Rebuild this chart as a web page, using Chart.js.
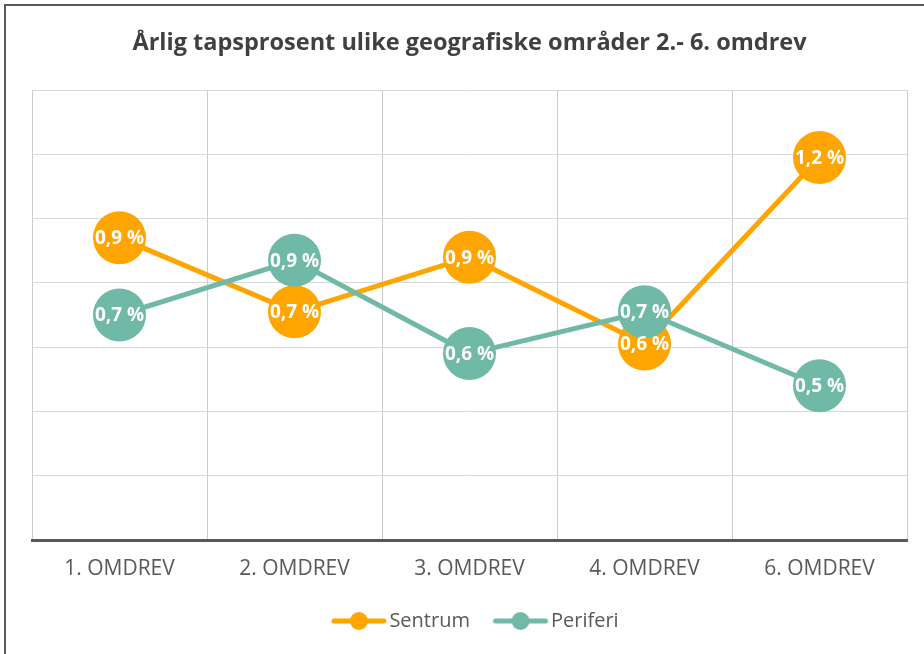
<!DOCTYPE html>
<html>
<head>
<meta charset="utf-8">
<script src="https://cdn.jsdelivr.net/npm/chart.js@4.4.0/dist/chart.umd.min.js"></script>
<style>
  html, body { margin: 0; padding: 0; background: #fff; }
  canvas { display: block; }
</style>
</head>
<body>
<canvas id="chart" width="924" height="654"></canvas>
<script>
const categories = ["1. OMDREV", "2. OMDREV", "3. OMDREV", "4. OMDREV", "6. OMDREV"];
const sentrum = [0.94, 0.71, 0.88, 0.61, 1.19];
const periferi = [0.70, 0.87, 0.58, 0.71, 0.48];

const ORANGE = "#FFA502";
const TEAL = "#70B9A6";
const FONT = "'Open Sans', sans-serif";

// legend marker: line with a dot, drawn off-centre in a wider canvas
function legendMarker(color) {
  const c = document.createElement("canvas");
  c.width = 120; c.height = 24;
  const g = c.getContext("2d");
  g.strokeStyle = color;
  g.lineWidth = 5;
  g.lineCap = "round";
  g.beginPath(); g.moveTo(44, 12); g.lineTo(94, 12); g.stroke();
  g.fillStyle = color;
  g.beginPath(); g.arc(69, 12, 9, 0, Math.PI * 2); g.fill();
  return c;
}
const markers = [legendMarker(ORANGE), legendMarker(TEAL)];

// white value labels inside the dots
const valueLabels = {
  id: "valueLabels",
  afterDatasetsDraw(chart) {
    const ctx = chart.ctx;
    ctx.save();
    ctx.fillStyle = "#fff";
    ctx.font = "bold 19px " + FONT;
    ctx.textAlign = "center";
    ctx.textBaseline = "middle";
    chart.data.datasets.forEach((ds, i) => {
      chart.getDatasetMeta(i).data.forEach((pt, j) => {
        const txt = ds.data[j].toFixed(1).replace(".", ",") + " %";
        ctx.fillText(txt, pt.x, pt.y + 1);
      });
    });
    ctx.restore();
  }
};

// outer frame (top and left edge)
const frame = {
  id: "frame",
  beforeDraw(chart) {
    const ctx = chart.ctx;
    ctx.save();
    ctx.strokeStyle = "#5a5a5a";
    ctx.lineWidth = 2;
    ctx.beginPath();
    ctx.moveTo(924, 5); ctx.lineTo(5, 5); ctx.lineTo(5, 654);
    ctx.stroke();
    ctx.restore();
  }
};

new Chart(document.getElementById("chart"), {
  type: "line",
  data: {
    labels: categories,
    datasets: [
      {
        label: "Sentrum",
        data: sentrum,
        borderColor: ORANGE,
        backgroundColor: ORANGE,
        borderWidth: 5,
        pointRadius: 26.5,
        pointHoverRadius: 26.5,
        pointBorderWidth: 0,
        order: 1
      },
      {
        label: "Periferi",
        data: periferi,
        borderColor: TEAL,
        backgroundColor: TEAL,
        borderWidth: 5,
        pointRadius: 26.5,
        pointHoverRadius: 26.5,
        pointBorderWidth: 0,
        order: 0
      }
    ]
  },
  options: {
    responsive: false,
    animation: false,
    devicePixelRatio: 1,
    layout: { autoPadding: false, padding: { left: 32, right: 17, top: 0, bottom: 13 } },
    scales: {
      x: {
        offset: true,
        grid: { offset: true, color: "#cccccc", lineWidth: 1, drawTicks: false },
        border: { color: "#595959", width: 3 },
        ticks: { color: "#595959", font: { family: FONT, size: 21 }, padding: 16.9, maxRotation: 0 },
        afterFit: s => { s.paddingLeft = 0; s.paddingRight = 0; }
      },
      y: {
        min: 0,
        max: 1.4,
        ticks: { display: false, stepSize: 0.2 },
        grid: { color: "#d9d9d9", lineWidth: 1, drawTicks: false },
        border: { display: false }
      }
    },
    plugins: {
      title: {
        display: true,
        text: "Årlig tapsprosent ulike geografiske områder 2.- 6. omdrev",
        color: "#404040",
        font: { family: FONT, size: 23.5, weight: "bold" },
        padding: { top: 28.9, bottom: 32.9 }
      },
      legend: {
        position: "bottom",
        labels: {
          color: "#595959",
          font: { family: FONT, size: 20 },
          usePointStyle: true,
          pointStyleWidth: 59,
          padding: 12,
          sort: (a, b) => a.datasetIndex - b.datasetIndex,
          generateLabels(chart) {
            const items = Chart.defaults.plugins.legend.labels.generateLabels(chart);
            items.forEach(it => { it.pointStyle = markers[it.datasetIndex]; });
            return items;
          }
        }
      },
      tooltip: { enabled: false }
    }
  },
  plugins: [valueLabels, frame]
});
</script>
</body>
</html>
